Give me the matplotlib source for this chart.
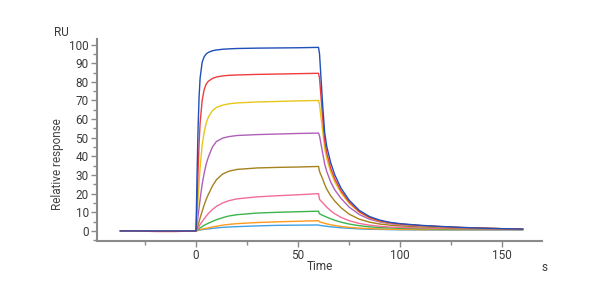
import matplotlib.pyplot as plt
from matplotlib.ticker import MultipleLocator

plt.rcParams['font.family'] = ['Roboto', 'DejaVu Sans']

# Tiempo (s)
tiempo = [-37, -30, -20, -10,
          0, 0.5, 1, 1.5, 2, 3, 4, 5, 6, 8, 10, 13, 16, 20, 30, 40, 50, 60,
          60.5, 61, 62, 63, 64, 66, 68, 71, 75, 80, 85, 90, 95, 100,
          110, 120, 130, 140, 150, 160]

# Respuesta (RU) por concentracion, de mayor a menor
azul = [0, 0, 0, 0,
        0, 30, 55, 72, 82, 90.5, 93.5, 95, 95.8, 96.7, 97.1, 97.5, 97.7, 97.9, 98.1, 98.2, 98.3, 98.5,
        95, 86, 68, 53, 45.5, 36.5, 30, 23, 16.5, 11, 7.7, 5.8, 4.6, 3.9,
        3.0, 2.4, 1.9, 1.5, 1.2, 1.0]
rojo = [0, 0, -0.3, -0.3,
        0, 15, 32, 47, 58, 70, 76, 78.8, 80.3, 81.8, 82.6, 83.2, 83.5, 83.7, 84, 84.2, 84.4, 84.6,
        82, 75, 61, 48.5, 42, 33.5, 27.8, 21.5, 15.5, 10.3, 7.2, 5.4, 4.4, 3.7,
        2.9, 2.3, 1.8, 1.5, 1.2, 1.0]
amarillo = [0, 0, 0, 0,
            0, 8, 17, 26, 34, 46, 53, 58, 61, 64.5, 66.3, 67.5, 68.2, 68.7, 69.2, 69.5, 69.8, 70,
            68, 63, 54, 44.5, 39, 31.5, 26.2, 20.5, 14.8, 10, 7, 5.2, 4.3, 3.6,
            2.8, 2.2, 1.8, 1.5, 1.2, 1.0]
morado = [0, 0, 0, 0,
          0, 4, 8, 12.5, 17, 25, 31, 36, 39.5, 45, 48, 49.8, 50.6, 51.2, 51.7, 52, 52.3, 52.5,
          51, 48, 42, 36, 32, 26.2, 22, 17.5, 12.8, 8.8, 6.3, 4.8, 3.9, 3.3,
          2.6, 2.1, 1.7, 1.4, 1.2, 1.0]
oliva = [0, 0, 0, 0,
         0, 1.5, 3, 5, 7, 10.5, 14, 17, 19.5, 24, 27.5, 30.5, 32, 33, 33.8, 34.1, 34.3, 34.6,
         32, 30.5, 28, 25, 22.5, 18.8, 16, 12.5, 9, 6.3, 4.7, 3.7, 3.1, 2.7,
         2.2, 1.8, 1.5, 1.3, 1.1, 0.9]
rosa = [0, 0, -0.2, -0.2,
        0, 0.7, 1.5, 2.5, 3.5, 5, 6.5, 8, 9.3, 11.5, 13.2, 15, 16.2, 17.2, 18.3, 18.9, 19.4, 20,
        17, 16.3, 15.2, 14, 12.8, 10.8, 9.2, 7.3, 5.5, 4, 3.1, 2.5, 2.1, 1.9,
        1.6, 1.4, 1.2, 1.1, 1.0, 0.9]
verde = [0, 0, 0, 0,
         0, 0.4, 0.8, 1.2, 1.6, 2.3, 3, 3.6, 4.1, 5.1, 6, 7.1, 8, 8.7, 9.6, 10, 10.3, 10.6,
         9.2, 8.9, 8.4, 7.9, 7.4, 6.5, 5.7, 4.7, 3.7, 2.8, 2.2, 1.8, 1.6, 1.4,
         1.2, 1.1, 1.0, 0.9, 0.9, 0.8]
naranja = [0, 0, 0, 0,
           0, 0.2, 0.4, 0.55, 0.7, 1, 1.2, 1.4, 1.6, 2.1, 2.5, 3.1, 3.5, 3.9, 4.5, 4.9, 5.2, 5.5,
           4.9, 4.7, 4.4, 4.1, 3.8, 3.3, 2.9, 2.4, 1.9, 1.5, 1.2, 1.0, 0.9, 0.8,
           0.7, 0.7, 0.7, 0.7, 0.7, 0.7]
celeste = [0, 0, 0, 0,
           0, 0.15, 0.3, 0.4, 0.5, 0.7, 0.85, 1, 1.1, 1.35, 1.6, 1.9, 2.1, 2.3, 2.7, 3.0, 3.1, 3.2,
           3.0, 2.9, 2.8, 2.6, 2.5, 2.2, 2.0, 1.7, 1.4, 1.1, 0.9, 0.8, 0.7, 0.6,
           0.55, 0.5, 0.5, 0.5, 0.5, 0.5]

curvas = [
    (celeste, '#3fa0e6'),
    (naranja, '#ff9a1e'),
    (verde, '#3cb44b'),
    (rosa, '#f26d9b'),
    (oliva, '#a5821e'),
    (morado, '#b060b8'),
    (amarillo, '#e6c619'),
    (rojo, '#f03c3c'),
    (azul, '#1f4fb8'),
]

fig = plt.figure(figsize=(6, 3), dpi=100)
ax = fig.add_axes([0.1617, 0.1967, 0.7417, 0.6733])

for valores, color in curvas:
    ax.plot(tiempo, valores, color=color, linewidth=1.0)

ax.set_xlim(-48.5, 169.5)
ax.set_ylim(-5.4, 103)

ax.xaxis.set_major_locator(MultipleLocator(50))
ax.xaxis.set_minor_locator(MultipleLocator(25))
ax.yaxis.set_major_locator(MultipleLocator(10))
ax.yaxis.set_minor_locator(MultipleLocator(5))

for lado in ['top', 'right']:
    ax.spines[lado].set_visible(False)
for lado in ['left', 'bottom']:
    ax.spines[lado].set_color('#8a8a8a')
    ax.spines[lado].set_linewidth(1.5)

ax.tick_params(which='major', length=4, width=1, color='#8a8a8a',
               labelsize=8.5, labelcolor='#3a3a3a', pad=2)
ax.tick_params(which='minor', length=3, width=1, color='#8a8a8a')

fig.text(0.1025, 0.89, 'RU', ha='center', va='center', fontsize=8.5, color='#3a3a3a')
fig.text(0.095, 0.453, 'Relative response', rotation=90, ha='center', va='center',
         fontsize=8.5, color='#444444')
fig.text(0.533, 0.11, 'Time', ha='center', va='center', fontsize=8.5, color='#3a3a3a')
fig.text(0.908, 0.107, 's', ha='center', va='center', fontsize=8.5, color='#3a3a3a')

fig.savefig('out.png', dpi=100)
